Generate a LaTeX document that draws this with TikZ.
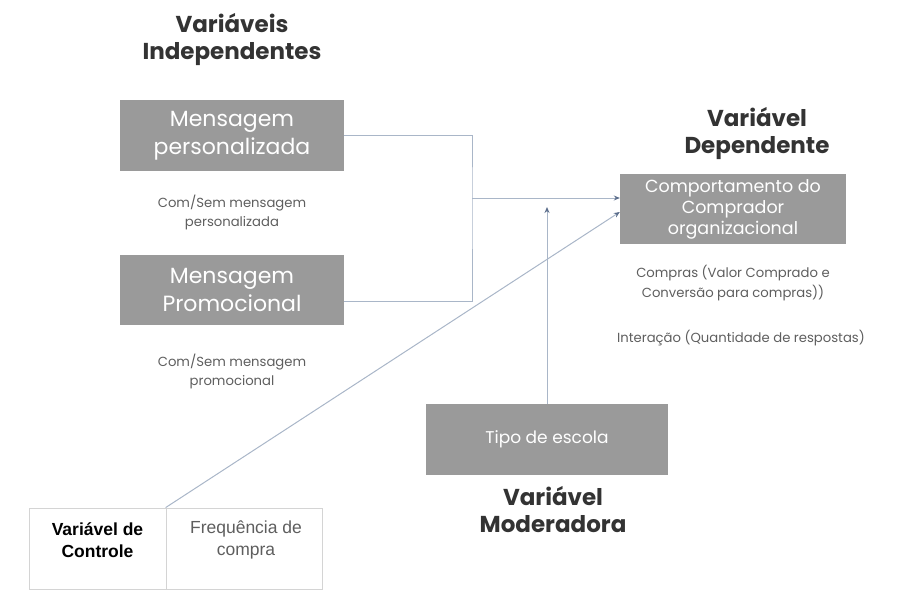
\documentclass[tikz,border=0pt]{standalone}
\usepackage{fontspec}
\setmainfont{Poppins}
\newfontfamily\arialfont{Liberation Sans}
\usetikzlibrary{arrows.meta,positioning}
\definecolor{boxgray}{HTML}{9A9A9A}
\definecolor{titlegray}{HTML}{333333}
\definecolor{notegray}{HTML}{5E5E5E}
\definecolor{linkblue}{HTML}{A9B6C8}
\definecolor{tipblue}{HTML}{5C6E8C}
\definecolor{framegray}{HTML}{D4D4D4}
\tikzset{
  varbox/.style={fill=boxgray, text=white, align=center, inner sep=0pt},
  title/.style={font=\bfseries\fontsize{23}{27}\selectfont, text=titlegray, align=center},
  note/.style={font=\fontsize{13.2}{19.5}\selectfont, text=notegray, align=center},
  link/.style={draw=linkblue, line width=1pt},
  arrow/.style={link, -{Stealth[length=6pt,width=5pt,color=tipblue]}},
  ctrlbox/.style={draw=framegray, line width=0.8pt, minimum height=81pt, inner sep=0pt}
}
\begin{document}
\begin{tikzpicture}[x=1pt,y=-1pt]
  \useasboundingbox (0,0) rectangle (902,608);

  % Independent variables (left)
  \node[title] (indep) at (232,39.5) {Variáveis\\Independentes};
  \node[varbox, minimum width=224pt, minimum height=71pt,
    font=\fontsize{22}{28}\selectfont] (pers) at (232,135.5)
    {Mensagem\\personalizada};
  \node[note] (persnote) at (232,212.5) {Com/Sem mensagem\\personalizada};
  \node[varbox, minimum width=224pt, minimum height=70pt,
    font=\fontsize{22}{28}\selectfont] (promo) at (232,290)
    {Mensagem\\Promocional};
  \node[note] (promonote) at (232,371.5) {Com/Sem mensagem\\promocional};

  % Dependent variable (right)
  \node[title] (dep) at (757,134) {Variável\\Dependente};
  \node[varbox, minimum width=226pt, minimum height=70pt,
    font=\fontsize{17.5}{21}\selectfont] (comp) at (733,209)
    {Comportamento do\\Comprador\\organizacional};
  \node[note] (compnote) at (733,283) {Compras (Valor Comprado e\\Conversão para compras))};
  \node[note] (intnote) at (741,338) {Interação (Quantidade de respostas)};

  % Moderator
  \node[varbox, minimum width=242pt, minimum height=71pt,
    font=\fontsize{17}{20}\selectfont] (tipo) at (547,439.5) {Tipo de escola};
  \node[title] (moder) at (553,510) {Variável\\Moderadora};

  % Control variable
  \node[ctrlbox, minimum width=137pt] (ctrlA) at (97.5,548.5) {};
  \node[ctrlbox, minimum width=156pt] (ctrlB) at (244,548.5) {};
  \node[font=\arialfont\bfseries\fontsize{17.5}{22}\selectfont, align=center,
    text=black] (ctrlAtxt) at (97.5,540) {Variável de\\Controle};
  \node[font=\arialfont\fontsize{17.5}{22}\selectfont, align=center,
    text=notegray] (ctrlBtxt) at (246,540) {Frequência de\\compra};

  % Connectors
  \coordinate (jn) at (472,198);
  \coordinate (mod) at (547,207);
  \draw[link] (pers.east) -| (jn) |- ([yshift=-11pt]promo.east);
  \draw[arrow] (jn) -- (jn -| comp.west);
  \draw[arrow] (ctrlB.north west) -- ([yshift=-3pt]comp.west);
  \draw[arrow] (tipo.north) -- (mod);
\end{tikzpicture}
\end{document}
